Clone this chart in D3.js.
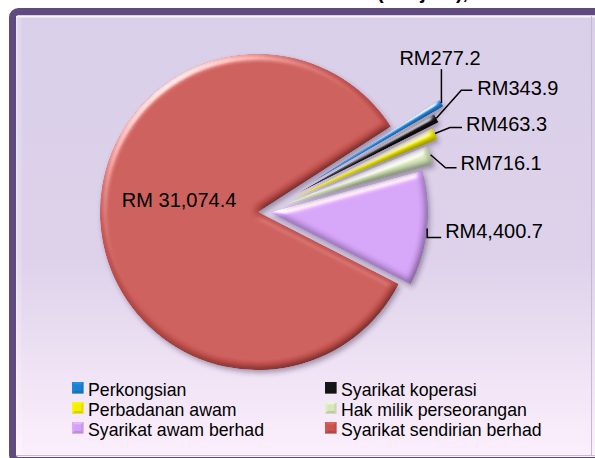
<!DOCTYPE html>
<html>
<head>
<meta charset="utf-8">
<script src="https://cdn.jsdelivr.net/npm/d3@7"></script>
<style>
  body { margin: 0; background: #fff; }
  svg { display: block; }
  text { font-family: "Liberation Sans", Arial, sans-serif; }
</style>
</head>
<body>
<div id="chart"></div>
<script>
// data
var categories = ['Perkongsian', 'Syarikat koperasi', 'Perbadanan awam',
                  'Hak milik perseorangan', 'Syarikat awam berhad', 'Syarikat sendirian berhad'];
var values = [277.2, 343.9, 463.3, 716.1, 4400.7, 31074.4];
var valueLabels = ['RM277.2', 'RM343.9', 'RM463.3', 'RM716.1', 'RM4,400.7', 'RM 31,074.4'];
var titleText = '(RM juta),';

// styles / layout
var colors  = ['#1b7fcf', '#151515', '#f4ee00', '#d6e6bd', '#d2a0f6', '#c8534f'];
var explode = [50, 38, 30, 18, 6, 6];   // px each slice is pulled out
var W = 595, H = 458;
var cx = 264, cy = 211.7, R = 158;
var firstAngle = 57.2 * Math.PI / 180;

// leader / label offsets relative to the slice's outer mid point
var labelLayout = [
  { path: [[0, -34]],               text: [-42, -38], anchor: 'start' },
  { path: [[25, -28], [36, -28]],   text: [41, -23],  anchor: 'start' },
  { path: [[15, -6], [27, -6]],     text: [31, -3],   anchor: 'start' },
  { path: [[15, 13], [26, 13]],     text: [30, 15],   anchor: 'start' },
  { path: [[0, 9], [14, 9]],        text: [18, 10],   anchor: 'start' },
  null
];

var svg = d3.select('#chart').append('svg')
  .attr('width', W)
  .attr('height', H);

var defs = svg.append('defs');

// panel gradient
var bg = defs.append('linearGradient').attr('id', 'bg')
  .attr('x1', 0).attr('y1', 0).attr('x2', 0).attr('y2', 1);
bg.append('stop').attr('offset', '0%').attr('stop-color', '#dacfe8');
bg.append('stop').attr('offset', '55%').attr('stop-color', '#ddd2ea');
bg.append('stop').attr('offset', '100%').attr('stop-color', '#fdf0fd');

// bevel + shadow for the slices
var f = defs.append('filter').attr('id', 'bevel')
  .attr('filterUnits', 'userSpaceOnUse')
  .attr('x', -400).attr('y', -400).attr('width', 800).attr('height', 800);
f.append('feGaussianBlur').attr('in', 'SourceAlpha').attr('stdDeviation', 3.5).attr('result', 'blur');
f.append('feDiffuseLighting').attr('in', 'blur').attr('surfaceScale', 4)
  .attr('diffuseConstant', 1).attr('lighting-color', '#fff').attr('result', 'diff')
  .append('feDistantLight').attr('azimuth', 235).attr('elevation', 60);
f.append('feComposite').attr('in', 'SourceGraphic').attr('in2', 'diff')
  .attr('operator', 'arithmetic').attr('k1', 1.155).attr('k2', 0).attr('k3', 0).attr('k4', 0)
  .attr('result', 'shaded');
f.append('feSpecularLighting').attr('in', 'blur').attr('surfaceScale', 4)
  .attr('specularConstant', 0.9).attr('specularExponent', 18)
  .attr('lighting-color', '#fff').attr('result', 'spec')
  .append('feDistantLight').attr('azimuth', 235).attr('elevation', 25);
f.append('feComposite').attr('in', 'spec').attr('in2', 'SourceAlpha')
  .attr('operator', 'in').attr('result', 'specIn');
f.append('feComposite').attr('in', 'shaded').attr('in2', 'specIn')
  .attr('operator', 'arithmetic').attr('k1', 0).attr('k2', 1).attr('k3', 0.8).attr('k4', 0)
  .attr('result', 'lit');
f.append('feComposite').attr('in', 'lit').attr('in2', 'SourceAlpha')
  .attr('operator', 'in').attr('result', 'litIn');
f.append('feGaussianBlur').attr('in', 'SourceAlpha').attr('stdDeviation', 2.5).attr('result', 'sb');
f.append('feOffset').attr('in', 'sb').attr('dx', 2).attr('dy', 3).attr('result', 'so');
f.append('feFlood').attr('flood-color', '#3a2a4a').attr('flood-opacity', 0.4).attr('result', 'sc');
f.append('feComposite').attr('in', 'sc').attr('in2', 'so').attr('operator', 'in').attr('result', 'shadow');
var fm = f.append('feMerge');
fm.append('feMergeNode').attr('in', 'shadow');
fm.append('feMergeNode').attr('in', 'litIn');

// title (cut off at the top, as in the original)
svg.append('text')
  .attr('x', 377)
  .attr('y', -1)
  .attr('font-size', 20)
  .attr('font-weight', 'bold')
  .attr('fill', '#000')
  .text(titleText);

// panel
svg.append('rect')
  .attr('x', 12.5).attr('y', 11.5)
  .attr('width', 600).attr('height', 449)
  .attr('rx', 6)
  .attr('fill', 'url(#bg)')
  .attr('stroke', '#5f4b7e')
  .attr('stroke-width', 7);
// inner bevel
svg.append('line').attr('x1', 16).attr('x2', W).attr('y1', 16.8).attr('y2', 16.8)
  .attr('stroke', '#fff').attr('stroke-opacity', 0.75).attr('stroke-width', 1.6);
svg.append('line').attr('x1', 16.8).attr('x2', 16.8).attr('y1', 16).attr('y2', 456)
  .attr('stroke', '#fff').attr('stroke-opacity', 0.45).attr('stroke-width', 1.6);
svg.append('rect').attr('x', 17.6).attr('y', 17.6).attr('width', 4).attr('height', 438)
  .attr('fill', '#fff').attr('fill-opacity', 0.18);
svg.append('line').attr('x1', 16).attr('x2', W).attr('y1', 455.5).attr('y2', 455.5)
  .attr('stroke', '#a596b8').attr('stroke-opacity', 0.6).attr('stroke-width', 1);
svg.append('line').attr('x1', 591.5).attr('x2', 591.5).attr('y1', 16).attr('y2', 456)
  .attr('stroke', '#c4b9d3').attr('stroke-width', 1);

// pie
var pie = d3.pie()
  .sort(null)
  .startAngle(firstAngle)
  .endAngle(firstAngle + 2 * Math.PI)
  .value(function (d) { return d; });
var arcs = pie(values);

var arc = d3.arc().innerRadius(0).outerRadius(R);
var rimArc = d3.arc().innerRadius(R).outerRadius(R);
var midArc = d3.arc().innerRadius(0).outerRadius(R);

function shift(d, i) {
  var a = (d.startAngle + d.endAngle) / 2;
  return [Math.sin(a) * explode[i], -Math.cos(a) * explode[i]];
}

var gPie = svg.append('g').attr('transform', 'translate(' + cx + ',' + cy + ')');

// draw big slices first so thin rods sit on top
var drawOrder = [5, 4, 3, 2, 1, 0];
drawOrder.forEach(function (i) {
  var d = arcs[i];
  var s = shift(d, i);
  gPie.append('path')
    .attr('d', arc(d))
    .attr('transform', 'translate(' + s[0] + ',' + s[1] + ')')
    .attr('fill', colors[i])
    .attr('filter', 'url(#bevel)');
});

// labels and leader lines
var gLab = svg.append('g').attr('transform', 'translate(' + cx + ',' + cy + ')');
arcs.forEach(function (d, i) {
  var s = shift(d, i);
  var lay = labelLayout[i];
  if (lay) {
    var p = rimArc.centroid(d);
    var start = [p[0] + s[0], p[1] + s[1]];
    var pts = [start].concat(lay.path.map(function (o) { return [start[0] + o[0], start[1] + o[1]]; }));
    gLab.append('path')
      .attr('d', d3.line()(pts))
      .attr('fill', 'none')
      .attr('stroke', '#000')
      .attr('stroke-width', 1.5);
    gLab.append('text')
      .attr('x', start[0] + lay.text[0])
      .attr('y', start[1] + lay.text[1])
      .attr('text-anchor', lay.anchor)
      .attr('font-size', 20)
      .attr('fill', '#000')
      .text(valueLabels[i]);
  } else {
    var c = midArc.centroid(d);
    gLab.append('text')
      .attr('x', c[0] + s[0])
      .attr('y', c[1] + s[1] - 9)
      .attr('text-anchor', 'middle')
      .attr('font-size', 20)
      .attr('fill', '#000')
      .text(valueLabels[i]);
  }
});

// legend
var legX = [72, 325], legY = 382, legStep = 20, box = 11.5;
var gLeg = svg.append('g');
categories.forEach(function (name, i) {
  var x = legX[i % 2], y = legY + Math.floor(i / 2) * legStep;
  var col = d3.color(colors[i]);
  var m = [x + box / 2, y + box / 2];
  var faces = [
    [[x, y], [x + box, y], m, col.brighter(0.6)],
    [[x + box, y], [x + box, y + box], m, col.darker(0.3)],
    [[x + box, y + box], [x, y + box], m, col.darker(0.7)],
    [[x, y + box], [x, y], m, col.brighter(0.2)]
  ];
  gLeg.append('rect').attr('x', x).attr('y', y).attr('width', box).attr('height', box)
    .attr('fill', colors[i]);
  faces.forEach(function (fc) {
    gLeg.append('path')
      .attr('d', d3.line()([fc[0], fc[1], fc[2]]) + 'Z')
      .attr('fill', fc[3])
      .attr('fill-opacity', 0.55);
  });
  gLeg.append('rect').attr('x', x + 2.5).attr('y', y + 2.5).attr('width', box - 5).attr('height', box - 5)
    .attr('fill', colors[i]);
  gLeg.append('text')
    .attr('x', x + 16)
    .attr('y', y + 13.5)
    .attr('font-size', 17.7)
    .attr('fill', '#000')
    .text(name);
});
</script>
</body>
</html>
